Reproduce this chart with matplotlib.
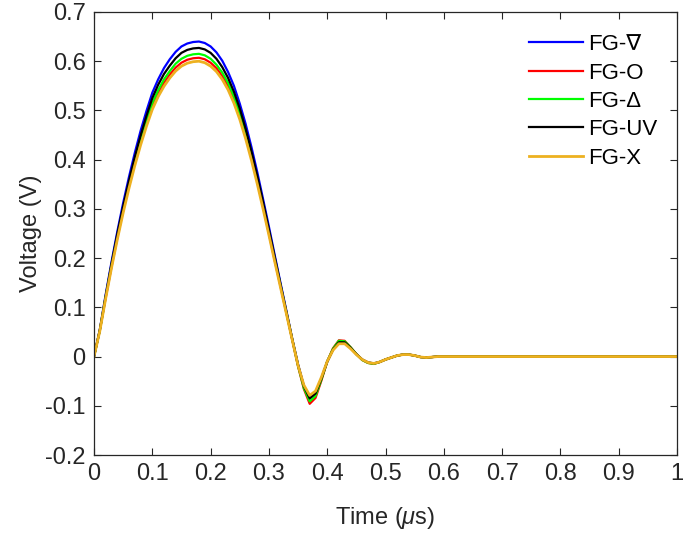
import matplotlib
matplotlib.use("Agg")
import matplotlib.pyplot as plt
from matplotlib.ticker import FuncFormatter

plt.rcParams["font.family"] = ["Liberation Sans", "DejaVu Sans"]
plt.rcParams["mathtext.fontset"] = "custom"
plt.rcParams["mathtext.rm"] = "Liberation Sans"
plt.rcParams["mathtext.it"] = "Liberation Sans:italic"
plt.rcParams["axes.unicode_minus"] = False

# time axis (microseconds)
time_us = [
    0.00, 0.01, 0.02, 0.03, 0.04, 0.05, 0.06, 0.07, 0.08, 0.09,
    0.10, 0.11, 0.12, 0.13, 0.14, 0.15, 0.16, 0.17, 0.18, 0.19,
    0.20, 0.21, 0.22, 0.23, 0.24, 0.25, 0.26, 0.27, 0.28, 0.29,
    0.30, 0.31, 0.32, 0.33, 0.34, 0.35, 0.36, 0.37, 0.38, 0.39,
    0.40, 0.41, 0.42, 0.43, 0.44, 0.45, 0.46, 0.47, 0.48, 0.49,
    0.50, 0.51, 0.52, 0.53, 0.54, 0.55, 0.56, 0.57, 0.58, 0.59,
    0.60, 0.65, 0.70, 0.80, 0.90, 1.00,
]

v_nabla = [
    0.000, 0.055, 0.126, 0.192, 0.254, 0.312, 0.365, 0.414, 0.459, 0.499,
    0.536, 0.563, 0.586, 0.604, 0.619, 0.630, 0.636, 0.639, 0.640, 0.637,
    0.630, 0.618, 0.601, 0.578, 0.550, 0.514, 0.473, 0.426, 0.375, 0.320,
    0.264, 0.206, 0.149, 0.093, 0.036, -0.016, -0.060, -0.084, -0.074, -0.044,
    -0.010, 0.014, 0.029, 0.029, 0.018, 0.005, -0.006, -0.012, -0.014, -0.011,
    -0.006, -0.002, 0.002, 0.004, 0.004, 0.002, -0.001, -0.002, -0.001, 0.000,
    0.000, 0.000, 0.000, 0.000, 0.000, 0.000,
]

v_o = [
    0.000, 0.053, 0.119, 0.182, 0.241, 0.296, 0.346, 0.393, 0.435, 0.474,
    0.508, 0.534, 0.556, 0.573, 0.587, 0.597, 0.603, 0.606, 0.607, 0.604,
    0.597, 0.586, 0.570, 0.549, 0.521, 0.488, 0.448, 0.404, 0.355, 0.304,
    0.250, 0.195, 0.142, 0.088, 0.034, -0.020, -0.066, -0.096, -0.084, -0.049,
    -0.010, 0.017, 0.033, 0.032, 0.019, 0.005, -0.007, -0.013, -0.015, -0.011,
    -0.006, -0.002, 0.002, 0.004, 0.004, 0.002, -0.001, -0.002, -0.001, 0.000,
    0.000, 0.000, 0.000, 0.000, 0.000, 0.000,
]

v_delta = [
    0.000, 0.053, 0.121, 0.185, 0.244, 0.299, 0.351, 0.398, 0.441, 0.480,
    0.515, 0.541, 0.563, 0.580, 0.595, 0.605, 0.611, 0.614, 0.615, 0.612,
    0.605, 0.593, 0.577, 0.556, 0.528, 0.494, 0.454, 0.409, 0.360, 0.308,
    0.253, 0.198, 0.144, 0.089, 0.035, -0.019, -0.064, -0.091, -0.080, -0.047,
    -0.010, 0.016, 0.032, 0.031, 0.019, 0.005, -0.007, -0.013, -0.015, -0.011,
    -0.006, -0.002, 0.002, 0.004, 0.004, 0.002, -0.001, -0.002, -0.001, 0.000,
    0.000, 0.000, 0.000, 0.000, 0.000, 0.000,
]

v_uv = [
    0.000, 0.054, 0.123, 0.188, 0.249, 0.305, 0.357, 0.405, 0.449, 0.489,
    0.525, 0.552, 0.574, 0.591, 0.606, 0.617, 0.623, 0.626, 0.627, 0.624,
    0.617, 0.605, 0.588, 0.566, 0.538, 0.504, 0.463, 0.417, 0.367, 0.314,
    0.258, 0.202, 0.146, 0.091, 0.036, -0.017, -0.060, -0.085, -0.075, -0.045,
    -0.011, 0.014, 0.029, 0.029, 0.018, 0.005, -0.006, -0.012, -0.014, -0.011,
    -0.006, -0.002, 0.002, 0.004, 0.004, 0.002, -0.001, -0.002, -0.001, 0.000,
    0.000, 0.000, 0.000, 0.000, 0.000, 0.000,
]

v_x = [
    0.000, 0.052, 0.118, 0.180, 0.238, 0.292, 0.342, 0.388, 0.430, 0.468,
    0.502, 0.528, 0.549, 0.566, 0.580, 0.590, 0.596, 0.599, 0.600, 0.597,
    0.590, 0.579, 0.563, 0.542, 0.515, 0.482, 0.443, 0.399, 0.351, 0.300,
    0.247, 0.193, 0.140, 0.087, 0.034, -0.018, -0.058, -0.079, -0.070, -0.042,
    -0.010, 0.013, 0.026, 0.026, 0.016, 0.004, -0.006, -0.012, -0.014, -0.011,
    -0.006, -0.002, 0.002, 0.004, 0.004, 0.002, -0.001, -0.002, -0.001, 0.000,
    0.000, 0.000, 0.000, 0.000, 0.000, 0.000,
]

labels = ["FG-\u2207", "FG-O", "FG-\u0394", "FG-UV", "FG-X"]
series = [v_nabla, v_o, v_delta, v_uv, v_x]
colors = ["#0000FF", "#FF0000", "#00FF00", "#000000", "#EDB120"]
widths = [1.6, 1.6, 1.6, 1.6, 2.0]

x_ticks = [0, 0.1, 0.2, 0.3, 0.4, 0.5, 0.6, 0.7, 0.8, 0.9, 1.0]
y_ticks = [-0.2, -0.1, 0, 0.1, 0.2, 0.3, 0.4, 0.5, 0.6, 0.7]

fig = plt.figure(figsize=(6.85, 5.43), dpi=100)
ax = fig.add_axes([94 / 685, 88 / 543, 583 / 685, 443 / 543])

for vals, lab, col, lw in zip(series, labels, colors, widths):
    ax.plot(time_us, vals, color=col, lw=lw, label=lab)

ax.set_xlim(0, 1)
ax.set_ylim(-0.2, 0.7)
ax.set_xticks(x_ticks)
ax.set_yticks(y_ticks)
fmt = FuncFormatter(lambda v, _: f"{round(v, 2):g}")
ax.xaxis.set_major_formatter(fmt)
ax.yaxis.set_major_formatter(fmt)

dark = "#262626"
ax.tick_params(direction="in", length=5, width=0.8, top=True, right=True,
               labelsize=17, colors=dark, pad=6)
for sp in ax.spines.values():
    sp.set_color(dark)
    sp.set_linewidth(0.9)

ax.set_xlabel(r"Time ($\mu$s)", fontsize=17, color=dark, labelpad=14)
ax.set_ylabel("Voltage (V)", fontsize=17, color=dark, labelpad=2)

ax.legend(loc="upper left", bbox_to_anchor=(0.72, 0.985), frameon=False,
          fontsize=16, handlelength=2.4, handletextpad=0.25,
          labelspacing=0.33, borderpad=0.2)

fig.savefig("out.png", dpi=100)
